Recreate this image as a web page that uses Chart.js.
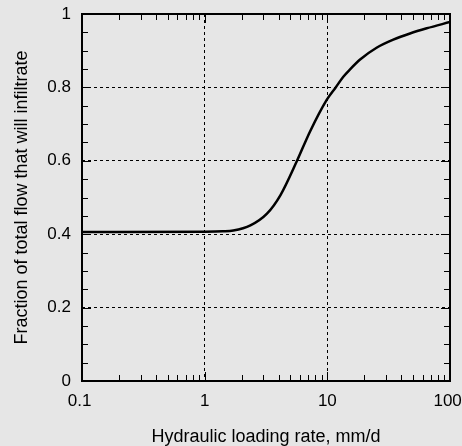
<!DOCTYPE html>
<html>
<head>
<meta charset="utf-8">
<script src="https://cdn.jsdelivr.net/npm/chart.js@4"></script>
<style>
  html, body { margin: 0; padding: 0; background: #e6e6e6; }
  #c { display: block; }
</style>
</head>
<body>
<canvas id="c" width="462" height="446"></canvas>
<script>
// Data
const loadingRate = [0.1, 1, 1.4, 1.71, 2.36, 3.22, 4.14, 5.66, 7.23, 9.88, 11.7, 13.5, 15.4, 18.5, 25.2, 34.5, 47.2, 64.6, 100];
const fractionInfiltrate = [0.406, 0.407, 0.408, 0.410, 0.424, 0.456, 0.506, 0.600, 0.680, 0.766, 0.800, 0.829, 0.850, 0.876, 0.908, 0.930, 0.947, 0.961, 0.978];
const xMajorTicks = [0.1, 1, 10, 100];
const yMajorTicks = [0, 0.2, 0.4, 0.6, 0.8, 1];
const xTitle = 'Hydraulic loading rate, mm/d';
const yTitle = 'Fraction of total flow that will infiltrate';

const points = loadingRate.map((x, i) => ({ x: x, y: fractionInfiltrate[i] }));
const FONT = 'Liberation Sans, Arial, Helvetica, sans-serif';

const bgPlugin = {
  id: 'bg',
  beforeDraw(chart) {
    const ctx = chart.ctx;
    ctx.save();
    ctx.fillStyle = '#e6e6e6';
    ctx.fillRect(0, 0, chart.width, chart.height);
    ctx.restore();
  }
};

const framePlugin = {
  id: 'frame',
  afterDatasetsDraw(chart) {
    const ctx = chart.ctx;
    const xs = chart.scales.x, ys = chart.scales.y;
    const a = chart.chartArea;
    ctx.save();
    ctx.strokeStyle = '#000';
    ctx.lineWidth = 1;
    ctx.beginPath();
    for (let d = 0; d < xMajorTicks.length; d++) {
      const base = xMajorTicks[d];
      const px = Math.round(xs.getPixelForValue(base)) + 0.5;
      if (d > 0 && d < xMajorTicks.length - 1) {
        ctx.moveTo(px, a.bottom); ctx.lineTo(px, a.bottom - 9);
        ctx.moveTo(px, a.top); ctx.lineTo(px, a.top + 9);
      }
      if (d < xMajorTicks.length - 1) {
        for (let k = 2; k <= 9; k++) {
          const p = Math.round(xs.getPixelForValue(base * k)) + 0.5;
          ctx.moveTo(p, a.bottom); ctx.lineTo(p, a.bottom - 6);
          ctx.moveTo(p, a.top); ctx.lineTo(p, a.top + 6);
        }
      }
    }
    for (let i = 1; i < 20; i++) {
      const v = i * 0.05;
      const py = Math.round(ys.getPixelForValue(v)) + 0.5;
      const len = (i % 4 === 0) ? 9 : 6;
      ctx.moveTo(a.left, py); ctx.lineTo(a.left + len, py);
      ctx.moveTo(a.right, py); ctx.lineTo(a.right - len, py);
    }
    ctx.stroke();
    ctx.lineWidth = 2;
    ctx.strokeRect(a.left, a.top, a.right - a.left, a.bottom - a.top);
    ctx.restore();
  }
};

new Chart(document.getElementById('c'), {
  type: 'line',
  data: {
    datasets: [{
      data: points,
      borderColor: '#000',
      borderWidth: 2.5,
      pointRadius: 0,
      fill: false,
      cubicInterpolationMode: 'monotone'
    }]
  },
  options: {
    responsive: false,
    devicePixelRatio: 1,
    animation: false,
    layout: { padding: { top: 14, right: 12, left: 0, bottom: 0 } },
    plugins: { legend: { display: false }, tooltip: { enabled: false } },
    scales: {
      x: {
        type: 'logarithmic',
        min: 0.1,
        max: 100,
        afterBuildTicks(scale) { scale.ticks = xMajorTicks.map(v => ({ value: v, major: true })); },
        afterFit(scale) { scale.height = 65; scale.paddingLeft = 0; scale.paddingRight = 0; },
        ticks: {
          autoSkip: false,
          maxRotation: 0,
          padding: 10,
          color: '#000',
          font: { family: FONT, size: 17 },
          callback: (v, i) => (i === 0 || i === xMajorTicks.length - 1) ? String(v) + ' ' : String(v)
        },
        grid: {
          drawTicks: false,
          lineWidth: 1,
          color: (ctx) => (ctx.index === 0 || ctx.index === xMajorTicks.length - 1) ? 'rgba(0,0,0,0)' : '#000'
        },
        border: { display: false, dash: [3, 3] },
        title: {
          display: true,
          text: xTitle,
          color: '#000',
          font: { family: FONT, size: 18, lineHeight: 1 },
          padding: { top: 0, bottom: 0 }
        }
      },
      y: {
        min: 0,
        max: 1,
        afterBuildTicks(scale) { scale.ticks = yMajorTicks.map(v => ({ value: v })); },
        afterFit(scale) { scale.width = 82; scale.paddingTop = 0; scale.paddingBottom = 0; },
        ticks: {
          padding: 11,
          color: '#000',
          font: { family: FONT, size: 17 },
          callback: (v) => String(Math.round(v * 10) / 10)
        },
        grid: {
          drawTicks: false,
          lineWidth: 1,
          color: (ctx) => (ctx.index === 0 || ctx.index === yMajorTicks.length - 1) ? 'rgba(0,0,0,0)' : '#000'
        },
        border: { display: false, dash: [3, 3] },
        title: {
          display: true,
          text: yTitle,
          color: '#000',
          font: { family: FONT, size: 18, lineHeight: 1 },
          padding: { top: 13, bottom: 0 }
        }
      }
    }
  },
  plugins: [bgPlugin, framePlugin]
});
</script>
</body>
</html>
